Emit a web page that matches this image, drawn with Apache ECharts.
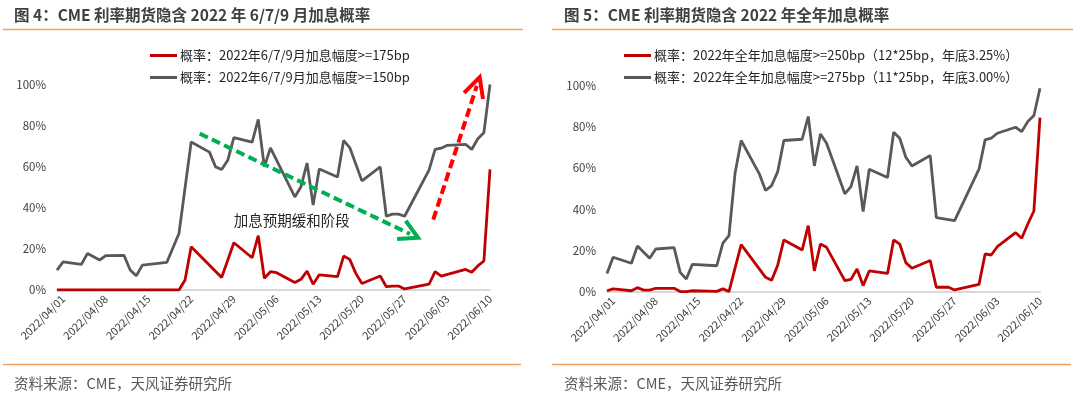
<!DOCTYPE html>
<html>
<head>
<meta charset="utf-8">
<script src="https://cdn.jsdelivr.net/npm/echarts@6/dist/echarts.min.js"></script>
<style>
html,body{margin:0;padding:0;background:#fff;}
#c{width:1080px;height:395px;}
</style>
</head>
<body>
<div id="c"></div>
<script>
// ---------------- data ----------------
const dates = ['2022/03/31','2022/04/01','2022/04/04','2022/04/05','2022/04/06','2022/04/07','2022/04/08',
  '2022/04/11','2022/04/12','2022/04/13','2022/04/14','2022/04/18','2022/04/19','2022/04/20','2022/04/21','2022/04/22',
  '2022/04/25','2022/04/26','2022/04/27','2022/04/28','2022/04/29','2022/05/02','2022/05/03','2022/05/04','2022/05/05','2022/05/06',
  '2022/05/09','2022/05/10','2022/05/11','2022/05/12','2022/05/13','2022/05/16','2022/05/17','2022/05/18','2022/05/19','2022/05/20',
  '2022/05/23','2022/05/24','2022/05/25','2022/05/26','2022/05/27','2022/05/31','2022/06/01','2022/06/02','2022/06/03',
  '2022/06/06','2022/06/07','2022/06/08','2022/06/09','2022/06/10'];

// Fig.4: probability of >=175bp / >=150bp hikes by Jun/Jul/Sep 2022 (%)
const prob175 = [0,0,0,0,0,0,0, 0,0,0,0,0,0,0,4.9,21,
  null,null,6.1,null,23,15.7,26.4,5.7,8.9,8.4,
  3.7,5.2,9.2,2.8,7.4,6.5,16.5,14.9,8.1,3.2,
  6.8,1.6,1.9,1.9,0.5,2.8,8.9,6.8,null,
  10,8.6,11.7,14.1,58.7];
const prob150 = [9.7,13.7,12.5,17.8,null,14.6,16.7,
  16.8,9.7,6.9,12.1,13.4,null,27.5,null,72,
  67.1,59.9,58.6,63.1,74.1,72,83,59.9,69.1,null,
  45.3,50.2,61.8,41.3,58.9,55,72.8,69.3,null,53.1,
  59.9,35.9,36.9,36.9,35.9,58.3,68.4,69,70.4,
  70.9,68.4,73.6,76.5,100];

// Fig.5: probability of >=250bp / >=275bp hikes in full-year 2022 (%)
const prob250 = [0.6,1.5,0.6,2.1,0.9,0.9,1.8,
  1.8,0.2,0.2,0.6,0.3,1.5,0.2,null,22.9,
  11.1,7.1,5.7,13.1,25.2,20.3,32.1,10.2,23.2,21.6,
  5.5,6.1,11.1,3.1,10.2,9,25.2,23.2,14.2,11.5,
  15.2,2.3,2.3,2.3,1,3.7,18.4,17.9,21.9,
  28.7,26,32.9,39.2,84.4];
const prob275 = [9.0,16.8,13.9,22.3,null,16.3,20.8,
  21.5,9.5,6.3,13.4,12.7,23.6,27.3,57.5,73.3,
  57,49.1,51.5,58.3,73.3,73.9,84.9,61,76.4,72,
  47.5,51,61,38.9,59.4,55.4,77.3,74.4,65.2,61,
  66,36,null,null,34.5,59.4,73.6,74.4,76.8,
  79.7,77.6,82.5,85.4,98.6];

const tickDates = ['2022/04/01','2022/04/08','2022/04/15','2022/04/22','2022/04/29','2022/05/06',
  '2022/05/13','2022/05/20','2022/05/27','2022/06/03','2022/06/10'];
const yTicks = [0,20,40,60,80,100];

const names4 = ['概率：2022年6/7/9月加息幅度>=175bp','概率：2022年6/7/9月加息幅度>=150bp'];
const names5 = ['概率：2022年全年加息幅度>=250bp（12*25bp，年底3.25%）','概率：2022年全年加息幅度>=275bp（11*25bp，年底3.00%）'];
const titles = ['图 4：CME 利率期货隐含 2022 年 6/7/9 月加息概率','图 5：CME 利率期货隐含 2022 年全年加息概率'];
const sourceText = '资料来源：CME，天风证券研究所';
const annoText = '加息预期缓和阶段';

// ---------------- build ----------------
const FF = '"Noto Sans CJK SC","Noto Sans",sans-serif';
const days = [];
for (let t = Date.UTC(2022,2,31); t <= Date.UTC(2022,5,10); t += 86400000) {
  const d = new Date(t);
  days.push(d.getUTCFullYear() + '/' + String(d.getUTCMonth()+1).padStart(2,'0') + '/' + String(d.getUTCDate()).padStart(2,'0'));
}
function toSeries(vals) {
  const m = {};
  dates.forEach((d,i) => { m[d] = vals[i]; });
  return days.map(d => (d in m && m[d] !== null) ? m[d] : null);
}

const RED = '#C00000', GRAY = '#595959';

function xAxis(gi) {
  return {
    type:'category', gridIndex:gi, data:days, boundaryGap:false,
    axisLine:{show:true, lineStyle:{color:'#D9D9D9', width:2}},
    axisTick:{show:false},
    axisLabel:{interval:(i,v)=>tickDates.indexOf(v) >= 0, rotate:45, margin:7,
      fontSize:11, color:'#404040', fontFamily:FF}
  };
}
function yAxis(gi) {
  return {
    type:'value', gridIndex:gi, min:yTicks[0], max:yTicks[yTicks.length-1], interval:20,
    axisLine:{show:false}, axisTick:{show:false}, splitLine:{show:false},
    axisLabel:{formatter:'{value}%', fontSize:11.5, color:'#404040', margin:11, fontFamily:FF}
  };
}
function lineSeries(name, vals, color, gi) {
  return {
    name, type:'line', xAxisIndex:gi, yAxisIndex:gi, data:toSeries(vals),
    symbol:'none', connectNulls:true, smooth:false,
    lineStyle:{color, width:2.8}, itemStyle:{color}, z: color === RED ? 3 : 2
  };
}
function legend(left, names) {
  return {
    left, top:44, orient:'vertical', itemWidth:27, itemHeight:3, itemGap:9, icon:'rect',
    data:names, selectedMode:false,
    textStyle:{fontSize:13, color:'#262626', fontFamily:FF, padding:[0,0,0,-2]}
  };
}

const chart = echarts.init(document.getElementById('c'), null, {renderer:'canvas'});
chart.setOption({
  animation:false,
  backgroundColor:'#fff',
  textStyle:{fontFamily:FF},
  grid:[
    {left:57, top:84.5, width:433, height:205.5},
    {left:607, top:85.3, width:433, height:206.7}
  ],
  xAxis:[xAxis(0), xAxis(1)],
  yAxis:[yAxis(0), yAxis(1)],
  legend:[legend(145, names4), legend(619, names5)],
  series:[
    lineSeries(names4[0], prob175, RED, 0),
    lineSeries(names4[1], prob150, GRAY, 0),
    lineSeries(names5[0], prob250, RED, 1),
    lineSeries(names5[1], prob275, GRAY, 1)
  ]
});

// ---------------- decorations & annotations ----------------
function px(gi, dayPos, v) {
  const a = chart.convertToPixel({xAxisIndex:gi}, days[0]);
  const b = chart.convertToPixel({xAxisIndex:gi}, days[1]);
  const y = chart.convertToPixel({yAxisIndex:gi}, v);
  return [a + (b - a) * dayPos, y];
}
function arrow(p0, p1, color, armLen, halfAng) {
  const ang = Math.atan2(p0[1]-p1[1], p0[0]-p1[0]);
  const a1 = [p1[0] + armLen*Math.cos(ang+halfAng), p1[1] + armLen*Math.sin(ang+halfAng)];
  const a2 = [p1[0] + armLen*Math.cos(ang-halfAng), p1[1] + armLen*Math.sin(ang-halfAng)];
  const end = [p1[0] + 9*Math.cos(ang), p1[1] + 9*Math.sin(ang)];
  return [
    {type:'line', shape:{x1:p0[0], y1:p0[1], x2:end[0], y2:end[1]},
     style:{stroke:color, lineWidth:4, lineDash:[9,4.5]}, z:10},
    {type:'polyline', shape:{points:[a1, p1, a2]},
     style:{stroke:color, lineWidth:4, fill:null}, z:10}
  ];
}

const greenStart = px(0, 23.4, 76.1), greenEnd = px(0, 59.2, 25.4);
const redStart = px(0, 61.7, 34.3), redEnd = px(0, 69.3, 103.5);
const textPos = px(0, 29, 34);

const g = [
  {type:'text', style:{text:titles[0], x:14, y:15, verticalAlign:'middle', fontSize:15.5, fontWeight:'bold', fontFamily:FF, fill:'#404040'}},
  {type:'text', style:{text:titles[1], x:564, y:15, verticalAlign:'middle', fontSize:15.5, fontWeight:'bold', fontFamily:FF, fill:'#404040'}},
  {type:'line', shape:{x1:3, y1:29.5, x2:523, y2:29.5}, style:{stroke:'#F5A05A', lineWidth:1.5}},
  {type:'line', shape:{x1:552, y1:29.5, x2:1073, y2:29.5}, style:{stroke:'#F5A05A', lineWidth:1.5}},
  {type:'line', shape:{x1:3, y1:364.5, x2:521, y2:364.5}, style:{stroke:'#F5A05A', lineWidth:1.5}},
  {type:'line', shape:{x1:552, y1:364.5, x2:1071, y2:364.5}, style:{stroke:'#F5A05A', lineWidth:1.5}},
  {type:'text', style:{text:sourceText, x:14, y:383, verticalAlign:'middle', fontSize:14.5, fontFamily:FF, fill:'#595959'}},
  {type:'text', style:{text:sourceText, x:564, y:383, verticalAlign:'middle', fontSize:14.5, fontFamily:FF, fill:'#595959'}},
  {type:'text', style:{text:annoText, x:textPos[0], y:textPos[1], verticalAlign:'middle', fontSize:14.5, fontFamily:FF, fill:'#262626'}, z:11}
].concat(arrow(greenStart, greenEnd, '#00B050', 21, 0.5))
 .concat(arrow(redStart, redEnd, '#FF0000', 22, 0.47));

chart.setOption({graphic:g});
</script>
</body>
</html>
